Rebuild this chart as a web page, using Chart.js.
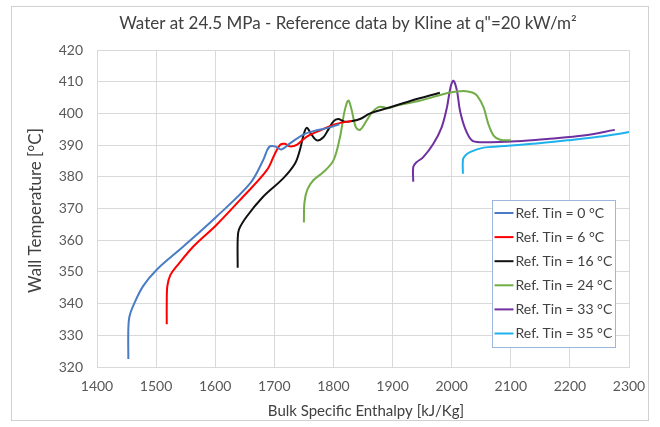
<!DOCTYPE html>
<html>
<head>
<meta charset="utf-8">
<title>Water at 24.5 MPa</title>
<script src="https://cdn.jsdelivr.net/npm/chart.js@4.4.1/dist/chart.umd.min.js"></script>
<style>
  html, body { margin: 0; padding: 0; background: #fff; }
  canvas { display: block; }
</style>
</head>
<body>
<canvas id="kline-chart" width="660" height="427"></canvas>
<script>
// Axis ticks
const xTicks = [1400, 1500, 1600, 1700, 1800, 1900, 2000, 2100, 2200, 2300];
const yTicks = [320, 330, 340, 350, 360, 370, 380, 390, 400, 410, 420];

// Titles
const chartTitle = 'Water at 24.5 MPa - Reference data by Kline at q"=20 kW/m²';
const xTitle = 'Bulk Specific Enthalpy [kJ/Kg]';
const yTitle = 'Wall Temperature [°C]';

// Series labels and colours
const seriesLabels = ['Ref. Tin = 0 °C', 'Ref. Tin = 6 °C', 'Ref. Tin = 16 °C',
  'Ref. Tin = 24 °C', 'Ref. Tin = 33 °C', 'Ref. Tin = 35 °C'];
const seriesColors = ['#4a7cc4', '#ff0000', '#111111', '#72ad47', '#7030a0', '#1fb1ec'];

// Tin = 0 °C : enthalpy [kJ/kg] and wall temperature [°C]
const h0 = [1453, 1453, 1455, 1461, 1478, 1501, 1546, 1602, 1659, 1681, 1691, 1701, 1712, 1727, 1749, 1766, 1794, 1810];
const t0 = [322.5, 332, 336, 339.2, 345.5, 350.7, 358, 367.4, 377.9, 385.2, 389.4, 389.6, 388.6, 390.6, 393.3, 394.4, 395.6, 396.6];

// Tin = 6 °C
const h6 = [1518, 1518, 1519, 1524, 1535, 1563, 1602, 1647, 1687, 1701, 1710, 1718, 1726, 1738, 1755, 1777, 1805, 1830];
const t6 = [333.5, 340, 345.5, 349, 351.8, 358, 364.8, 373.7, 382, 387.3, 390.1, 390.4, 389.6, 390.1, 392.7, 394.6, 396.7, 397.6];

// Tin = 16 °C
const h16 = [1638, 1638, 1640, 1653, 1681, 1715, 1735, 1743, 1750, 1755, 1762, 1772, 1783, 1791, 1800, 1808, 1819, 1832, 1846, 1862, 1890, 1930, 1980];
const t16 = [351.3, 360, 363.3, 367.4, 373.7, 379.5, 384.2, 388.3, 393.6, 395.5, 393.6, 391.5, 392.5, 394.8, 397.5, 398.2, 397.4, 397.6, 398.3, 400, 401.6, 403.9, 406.5];

// Tin = 24 °C
const h24 = [1750, 1751, 1756, 1766, 1783, 1800, 1811, 1818, 1823, 1826, 1831, 1838, 1845, 1856, 1866, 1876, 1884, 1892, 1907, 1946, 1997, 2020, 2035, 2043, 2054, 2062, 2071, 2082, 2100];
const t24 = [365.6, 372, 376, 378.9, 381.5, 385.2, 392.5, 400, 403.5, 404, 400.9, 395.6, 394.8, 397.7, 400.5, 402, 402, 401.6, 402.5, 404, 406.6, 407.1, 406.6, 405.6, 401.9, 396.7, 393, 391.7, 391.5];

// Tin = 33 °C
const h33 = [1935, 1935, 1940, 1952, 1969, 1983, 1992, 1998, 2003, 2009, 2014, 2023, 2034, 2048, 2110, 2166, 2223, 2276];
const t33 = [378.4, 383.1, 384.5, 386.2, 390.4, 395.6, 401.9, 408.2, 410.3, 407.1, 400.9, 395.1, 391.5, 390.9, 391.2, 392, 393, 394.8];

// Tin = 35 °C
const h35 = [2019, 2019, 2022, 2031, 2054, 2082, 2138, 2195, 2251, 2300, 2318];
const t35 = [381, 385.2, 386.5, 387.8, 389.2, 389.6, 390.4, 391.5, 392.7, 394.1, 395.2];

const seriesH = [h0, h6, h16, h24, h33, h35];
const seriesT = [t0, t6, t16, t24, t33, t35];

const FONT = "Lato, 'Open Sans', sans-serif";
const GRID = '#d9d9d9';
const TEXT = '#404040';

// outer frame and the three titles
const framePlugin = {
  id: 'frame',
  beforeDraw(chart) {
    const ctx = chart.ctx;
    ctx.save();
    ctx.fillStyle = '#fff';
    ctx.fillRect(0, 0, chart.width, chart.height);
    ctx.strokeStyle = '#d0d0d0';
    ctx.lineWidth = 1;
    ctx.strokeRect(11.5, 6.5, 637, 414);
    ctx.restore();
  },
  afterDraw(chart) {
    const ctx = chart.ctx;
    const area = chart.chartArea;
    ctx.save();
    ctx.fillStyle = TEXT;
    ctx.textAlign = 'center';
    ctx.textBaseline = 'middle';
    ctx.font = '17px ' + FONT;
    ctx.fillText(chartTitle, 348, 24);
    ctx.font = '15px ' + FONT;
    ctx.fillText(xTitle, (area.left + area.right) / 2 + 3, 411);
    ctx.translate(36, (area.top + area.bottom) / 2 + 2);
    ctx.rotate(-Math.PI / 2);
    ctx.font = '17px ' + FONT;
    ctx.fillText(yTitle, 0, 0);
    ctx.restore();
  }
};

// boxed legend inside the plot area
const boxLegendPlugin = {
  id: 'boxLegend',
  afterDatasetsDraw(chart) {
    const ctx = chart.ctx;
    const x0 = 492.5, y0 = 200.5, w = 123, h = 147, row = 24.1;
    ctx.save();
    ctx.fillStyle = '#fff';
    ctx.fillRect(x0, y0, w, h);
    ctx.strokeStyle = '#9db7dc';
    ctx.lineWidth = 1;
    ctx.strokeRect(x0, y0, w, h);
    ctx.font = '14px ' + FONT;
    ctx.textBaseline = 'middle';
    chart.data.datasets.forEach((ds, i) => {
      const y = y0 + 12.5 + i * row;
      ctx.strokeStyle = ds.borderColor;
      ctx.lineWidth = 2;
      ctx.beginPath();
      ctx.moveTo(x0 + 2, y);
      ctx.lineTo(x0 + 21, y);
      ctx.stroke();
      ctx.fillStyle = TEXT;
      ctx.fillText(ds.label, x0 + 23, y);
    });
    ctx.restore();
  }
};

const datasets = seriesLabels.map((label, i) => ({
  label: label,
  data: seriesH[i].map((h, j) => ({ x: h, y: seriesT[i][j] })),
  borderColor: seriesColors[i],
  backgroundColor: seriesColors[i],
  borderWidth: 2,
  pointRadius: 0,
  tension: 0.35,
  clip: i === 5 ? false : undefined
}));

new Chart(document.getElementById('kline-chart'), {
  type: 'line',
  data: { datasets: datasets },
  plugins: [framePlugin, boxLegendPlugin],
  options: {
    responsive: false,
    animation: false,
    devicePixelRatio: 1,
    layout: { padding: { left: 12, right: 31, top: 50, bottom: 0 } },
    plugins: {
      legend: { display: false },
      tooltip: { enabled: false },
      title: { display: false }
    },
    scales: {
      x: {
        type: 'linear',
        min: xTicks[0],
        max: xTicks[xTicks.length - 1],
        afterBuildTicks: (scale) => { scale.ticks = xTicks.map(v => ({ value: v })); },
        afterFit: (scale) => { scale.height = 60; },
        grid: { color: GRID, drawTicks: false },
        border: { color: GRID },
        ticks: {
          color: '#595959',
          padding: 11,
          font: { family: FONT, size: 14 },
          callback: (v) => String(v)
        }
      },
      y: {
        type: 'linear',
        min: yTicks[0],
        max: yTicks[yTicks.length - 1],
        afterBuildTicks: (scale) => { scale.ticks = yTicks.map(v => ({ value: v })); },
        afterFit: (scale) => { scale.width = 85; },
        grid: { color: GRID, drawTicks: false },
        border: { color: GRID },
        ticks: {
          color: '#595959',
          padding: 14,
          font: { family: FONT, size: 14 },
          callback: (v) => String(v)
        }
      }
    }
  }
});
</script>
</body>
</html>
